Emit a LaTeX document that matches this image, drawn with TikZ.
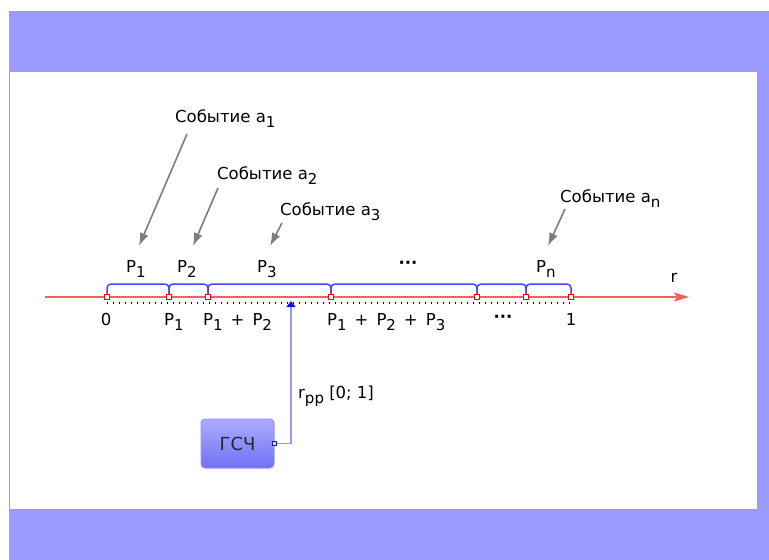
\documentclass[tikz,border=0pt]{standalone}
\usepackage{fontspec}
\setmainfont{DejaVu Sans}
\usetikzlibrary{arrows.meta}
\definecolor{band}{RGB}{155,155,253}
\definecolor{axisred}{RGB}{245,95,95}
\definecolor{braceblue}{RGB}{70,70,250}
\definecolor{arrgray}{RGB}{125,125,125}
\definecolor{linkblue}{RGB}{150,150,255}
\definecolor{tipblue}{RGB}{20,20,220}
\definecolor{boxtop}{RGB}{172,172,255}
\definecolor{boxbot}{RGB}{112,112,245}
\newcommand\lowsub[1]{\raisebox{-5.5pt}{\fontsize{15}{16}\selectfont #1}}
\tikzset{
  lbl/.style={inner sep=0pt, font=\fontsize{16.5}{18}\selectfont, text=black},
  evt/.style={lbl, anchor=base west},
  evarrow/.style={draw=arrgray, line width=1.6pt, -{Latex[length=13pt,width=9pt]}},
  tick/.style={draw=red, fill=white, line width=1.1pt, minimum size=5.5pt, inner sep=0pt, rectangle},
  brace/.style={draw=braceblue, line width=1.5pt, rounded corners=4pt},
  gsch/.style={rectangle, rounded corners=4pt, draw=linkblue, line width=1pt, top color=boxtop, bottom color=boxbot, minimum width=73pt, minimum height=49pt, font=\fontsize{18}{20}\selectfont, text=black!85},
}
\begin{document}
\begin{tikzpicture}[x=1pt,y=-1pt]
\useasboundingbox (0,0) rectangle (769,560);
\fill[white] (0,0) rectangle (769,560);
\fill[band] (9,11) rectangle (769,560);
\fill[white] (10,72) rectangle (757,509);

% axis
\coordinate (axs) at (45,297);
\coordinate (axe) at (689,297);
\draw[axisred, line width=1.5pt, -{Stealth[length=15pt,width=9pt,inset=3pt]}] (axs) -- (axe);
\node[lbl, anchor=base] (r) at (674,282) {r};

% dotted
\coordinate (d0) at (107,303);
\coordinate (d1) at (572,303);
\draw[black, line width=1.3pt, dash pattern=on 1.3pt off 4.7pt] (d0) -- (d1);

% points
\foreach \n/\x in {0/107,1/169,2/208,3/331,4/477,5/526,6/571}{
  \coordinate (c\n) at (\x,297);
  \coordinate (h\n) at (\x,284);
}
\foreach \a/\b in {0/1,1/2,2/3,3/4,4/5,5/6}{
  \draw[brace] (c\a) -- (h\a) -- (h\b) -- (c\b);
}
\foreach \n in {0,...,6}{ \node[tick] (p\n) at (c\n) {}; }

% labels above
\node[evt] (la1) at (126,272) {P\lowsub{1}};
\node[evt] (la2) at (177,272) {P\lowsub{2}};
\node[evt] (la3) at (257,272) {P\lowsub{3}};
\node[lbl, anchor=base] (ladots) at (408,268) {\textbf{···}};
\node[evt] (lan) at (536,272) {P\lowsub{n}};

% labels below
\node[lbl, anchor=base] (lb0) at (106,325) {0};
\node[evt] (lb1) at (164,325) {P\lowsub{1}};
\node[evt] (lb2) at (203,325) {P\lowsub{1} \,+\, P\lowsub{2}};
\node[evt] (lb3) at (327,325) {P\lowsub{1} \,+\, P\lowsub{2} \,+\, P\lowsub{3}};
\node[lbl, anchor=base] (lbdots) at (503,322) {\textbf{···}};
\node[lbl, anchor=base] (lbn) at (571,325) {1};

% events
\node[evt] (e1) at (175,122) {Событие a\lowsub{1}};
\node[evt] (e2) at (217,179) {Событие a\lowsub{2}};
\node[evt] (e3) at (280,215) {Событие a\lowsub{3}};
\node[evt] (en) at (560,202) {Событие a\lowsub{n}};
\coordinate (s1) at (187,134);
\coordinate (t1) at (139,246);
\coordinate (s2) at (218,188);
\coordinate (t2) at (193,246);
\coordinate (s3) at (282,223);
\coordinate (t3) at (270,246);
\coordinate (sn) at (565,209);
\coordinate (tn) at (548,246);
\draw[evarrow] (s1) -- (t1);
\draw[evarrow] (s2) -- (t2);
\draw[evarrow] (s3) -- (t3);
\draw[evarrow] (sn) -- (tn);

% generator
\node[gsch] (g) at (237.5,443.5) {ГСЧ};
\coordinate (gtip) at (291,301);
\draw[linkblue, line width=1.4pt, -{Triangle[length=6pt,width=9pt,color=tipblue]}] (g.east) -| (gtip);
\node[draw=tipblue, fill=linkblue!40, line width=1pt, minimum size=4.5pt, inner sep=0pt] (port) at (g.east) {};
\node[evt] (rpp) at (298,398) {r\lowsub{pp} [0; 1]};
\end{tikzpicture}
\end{document}
